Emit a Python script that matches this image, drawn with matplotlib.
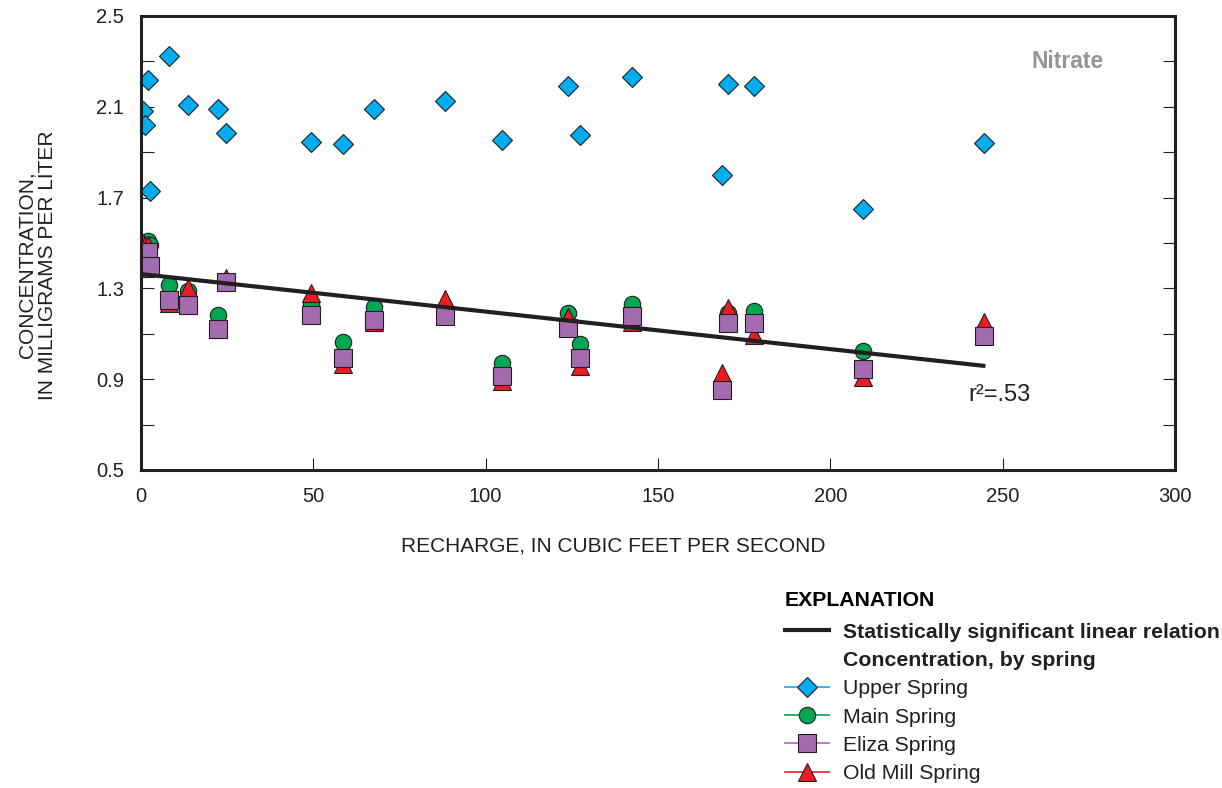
import matplotlib
matplotlib.use("Agg")
import matplotlib.pyplot as plt
from matplotlib.lines import Line2D

plt.rcParams['font.family'] = ['Liberation Sans', 'DejaVu Sans']

# --- recharge (cfs) for each sampling, shared by all springs ---
recharge = [0.5, 1.2, 1.9, 2.6, 8.1, 13.5, 22.4, 24.6, 49.2, 58.7, 67.7,
            88.2, 104.6, 124.0, 127.4, 142.4, 168.5, 170.4, 177.9, 209.5, 244.6]

# --- nitrate concentration, mg/L ---
upper = [2.08, 2.02, 2.22, 1.73, 2.325, 2.11, 2.09, 1.985, 1.945, 1.935, 2.09,
         2.125, 1.955, 2.19, 1.975, 2.23, 1.80, 2.20, 2.19, 1.65, 1.94]
main = [1.48, 1.50, 1.51, 1.49, 1.315, 1.29, 1.183, 1.33, 1.231, 1.062, 1.217,
        1.20, 0.970, 1.190, 1.055, 1.231, 0.88, 1.19, 1.202, 1.024, 1.112]
eliza = [1.41, 1.39, 1.46, 1.40, 1.249, 1.227, 1.120, 1.327, 1.183, 0.995, 1.161,
         1.178, 0.914, 1.127, 0.995, 1.180, 0.852, 1.146, 1.149, 0.945, 1.090]
old_mill = [1.50, 1.49, 1.49, 1.45, 1.235, 1.300, 1.12, 1.346, 1.281, 0.965, 1.154,
            1.252, 0.89, 1.175, 0.96, 1.154, 0.926, 1.212, 1.095, 0.91, 1.151]

# fitted linear relation (end points)
fit_x = [0, 245]
fit_y = [1.363, 0.958]

x_ticks = [0, 50, 100, 150, 200, 250, 300]
y_ticks = [0.5, 0.9, 1.3, 1.7, 2.1, 2.5]

EDGE = '#231f20'
springs = [
    ("Upper Spring", upper, 'D', '#00aeef', 10.3),
    ("Main Spring", main, 'o', '#00a651', 11.8),
    ("Old Mill Spring", old_mill, '^', '#ed1c24', 13.2),
    ("Eliza Spring", eliza, 's', '#a56bb0', 12.3),
]

fig = plt.figure(figsize=(12.22, 7.88), dpi=100)
ax = fig.add_axes([0.1154, 0.4036, 0.8461, 0.5761])

for name, vals, mk, col, ms in springs:
    ax.plot(recharge, vals, linestyle='none', marker=mk, markersize=ms,
            markerfacecolor=col, markeredgecolor=EDGE, markeredgewidth=0.8)

ax.plot(fit_x, fit_y, color=EDGE, linewidth=3.0, solid_capstyle='butt')

ax.set_xlim(0, 300)
ax.set_ylim(0.5, 2.5)
ax.set_xticks(x_ticks)
ax.set_yticks(y_ticks)
ax.set_yticks([0.7, 1.1, 1.5, 1.9, 2.3], minor=True)
ax.set_yticklabels([f"{v:.1f}" for v in y_ticks])

ax.tick_params(axis='both', which='both', direction='in', length=9, width=0.8,
               colors='#231f20', labelsize=14.5)
ax.tick_params(axis='y', which='both', right=True, pad=12)
ax.tick_params(axis='x', pad=12)
# no ticks at the plot corners on the x axis
ax.xaxis.get_major_ticks()[0].tick1line.set_visible(False)
ax.xaxis.get_major_ticks()[-1].tick1line.set_visible(False)

for sp in ax.spines.values():
    sp.set_linewidth(2.2)
    sp.set_color('#231f20')

ax.set_xlabel("RECHARGE, IN CUBIC FEET PER SECOND", fontsize=15,
              color='#231f20')
ax.xaxis.set_label_coords(0.457, -0.146)
ax.set_ylabel("CONCENTRATION,\nIN MILLIGRAMS PER LITER", fontsize=15,
              color='#231f20', linespacing=1.15)
ax.yaxis.set_label_coords(-0.081, 0.452)

ax.text(240, 0.83, "r²=.53", fontsize=17, color='#231f20', ha='left', va='center')
ax.text(269, 2.30, "Nitrate", fontsize=16.5, color='#939598', fontweight='bold',
        ha='center', va='center')

# explanation block
handles = [Line2D([], [], color=EDGE, linewidth=3),
           Line2D([], [], linestyle='none')]
labels = ["Statistically significant linear relation", "Concentration, by spring"]
legend_order = [springs[0], springs[1], springs[3], springs[2]]
for name, vals, mk, col, ms in legend_order:
    handles.append(Line2D([], [], color=col, linewidth=1.2, marker=mk,
                          markersize=ms, markerfacecolor=col,
                          markeredgecolor=EDGE, markeredgewidth=0.8))
    labels.append(name)

leg = fig.legend(handles, labels, loc='upper left',
                 bbox_to_anchor=(785 / 1222, 1 - 591 / 788),
                 frameon=False, fontsize=15.3, title="EXPLANATION",
                 title_fontproperties={'weight': 'bold', 'size': 15.3},
                 alignment='left', handlelength=2.05, handletextpad=0.7,
                 labelspacing=0.44, borderaxespad=0, borderpad=0)
leg._legend_box.sep = 9
for t in leg.get_texts()[:2]:
    t.set_fontweight('bold')
for t in leg.get_texts():
    t.set_color('#231f20')

fig.savefig("out.png", dpi=100)
